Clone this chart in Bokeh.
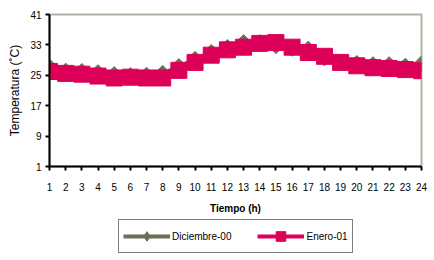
from bokeh.plotting import figure
from bokeh.models import Range1d, FixedTicker, Legend, LegendItem
from bokeh.layouts import column
from bokeh.embed import file_html
from bokeh.resources import INLINE

hours = list(range(1, 25))
diciembre = [27.2, 26.1, 26.0, 25.7, 25.2, 24.9, 25.0, 25.5, 27.3, 29.2, 31.0, 32.3,
             33.6, 33.6, 32.8, 32.1, 31.9, 29.6, 28.5, 28.1, 27.8, 27.8, 27.4, 28.0]
enero = [26.0, 25.5, 25.3, 24.8, 24.3, 24.5, 24.3, 24.3, 26.3, 28.4, 30.3, 31.7,
         32.4, 33.4, 33.6, 32.4, 31.0, 30.0, 28.4, 27.5, 27.0, 26.8, 26.5, 26.2]
y_ticks = [1, 9, 17, 25, 33, 41]
series_names = ["Diciembre-00", "Enero-01"]

GREY = "#6e6e58"
PINK = "#dc0058"
FONT = "Liberation Sans"

p = figure(width=434, height=216, output_backend="svg", toolbar_location=None,
           x_range=Range1d(1, 24), y_range=Range1d(1, 41))
p.min_border_left = 49
p.min_border_right = 13
p.min_border_top = 14
p.min_border_bottom = 50
p.background_fill_color = "white"
p.border_fill_color = "white"
p.outline_line_color = "#b3b3a6"
p.outline_line_width = 2
p.xgrid.visible = False
p.ygrid.visible = False

p.line(hours, diciembre, line_color=GREY, line_width=4)
p.scatter(hours, diciembre, marker="square", angle=0.7854, size=11.3,
          fill_color=GREY, line_color=GREY)
p.line(hours, enero, line_color=PINK, line_width=4)
p.scatter(hours, enero, marker="square", size=16,
          fill_color=PINK, line_color=PINK)

for ax in (p.xaxis[0], p.yaxis[0]):
    ax.axis_line_color = "black"
    ax.axis_line_width = 2
    ax.major_tick_line_color = "black"
    ax.major_tick_line_width = 2
    ax.major_tick_out = 4
    ax.major_tick_in = 0
    ax.minor_tick_line_color = None
    ax.major_label_text_font = FONT
    ax.major_label_text_font_size = "10px"
    ax.major_label_text_color = "black"
    ax.axis_label_text_font = FONT
    ax.axis_label_text_color = "black"

p.xaxis.ticker = FixedTicker(ticks=hours)
p.yaxis.ticker = FixedTicker(ticks=y_ticks)
p.xaxis.major_label_standoff = 12
p.yaxis.major_label_standoff = 4
p.xaxis.axis_label = "Tiempo (h)"
p.xaxis.axis_label_text_font_style = "bold"
p.xaxis.axis_label_text_font_size = "10px"
p.xaxis.axis_label_standoff = 9
p.yaxis.axis_label = "Temperatura (˚C)"
p.yaxis.axis_label_text_font_style = "normal"
p.yaxis.axis_label_text_font_size = "12px"
p.yaxis.axis_label_standoff = 5

# legend strip below the chart (its series sit outside its visible range)
q = figure(width=434, height=44, output_backend="svg", toolbar_location=None,
           x_axis_type=None, y_axis_type=None,
           x_range=Range1d(100, 101), y_range=Range1d(100, 101))
q.min_border_left = 0
q.min_border_right = 0
q.min_border_top = 0
q.min_border_bottom = 0
q.outline_line_color = None
q.xgrid.visible = False
q.ygrid.visible = False
q.background_fill_color = "white"
q.border_fill_color = "white"

ql1 = q.line(hours, diciembre, line_color=GREY, line_width=4)
qm1 = q.scatter(hours, diciembre, marker="diamond", size=10, fill_color=GREY, line_color=GREY)
ql2 = q.line(hours, enero, line_color=PINK, line_width=4)
qm2 = q.scatter(hours, enero, marker="square", size=10, fill_color=PINK, line_color=PINK)

legend = Legend(items=[LegendItem(label=series_names[0], renderers=[ql1, qm1]),
                       LegendItem(label=series_names[1], renderers=[ql2, qm2])],
                location=(69, 7), orientation="horizontal")
legend.border_line_color = "black"
legend.border_line_width = 1
legend.background_fill_color = "white"
legend.background_fill_alpha = 1
legend.padding = 4
legend.spacing = 26
legend.glyph_width = 47
legend.glyph_height = 24
legend.label_standoff = 2
legend.label_text_font = FONT
legend.label_text_font_size = "10px"
legend.label_text_color = "black"
legend.label_height = 10
legend.label_width = 10
legend.margin = 0
q.add_layout(legend)

layout = column(p, q, spacing=0)
open("out.html", "w").write(file_html(layout, INLINE))
